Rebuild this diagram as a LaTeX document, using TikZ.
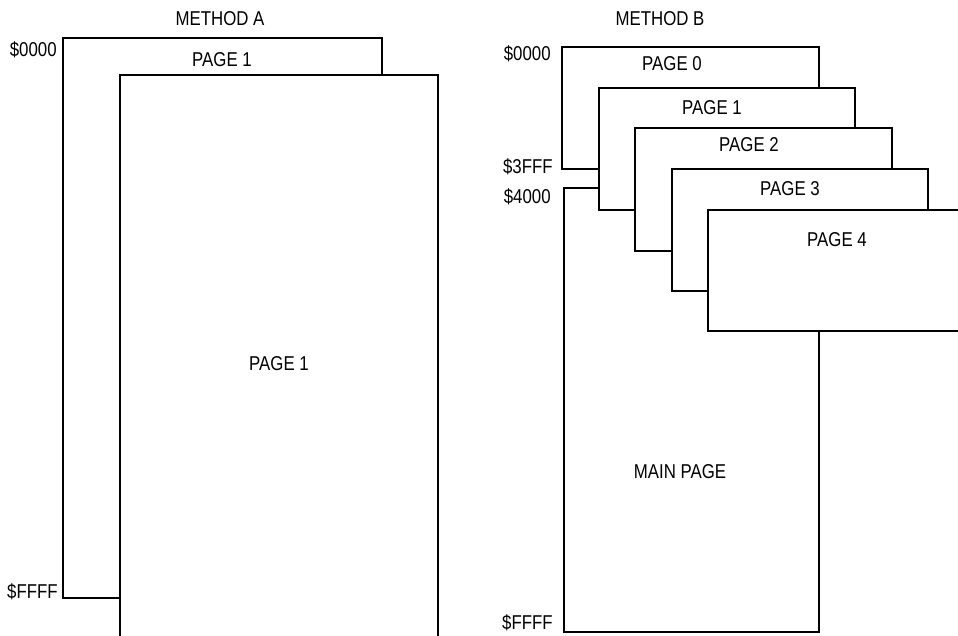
\documentclass[tikz,border=0pt]{standalone}
\usepackage{fontspec}
\setmainfont[FakeStretch=0.84]{Liberation Sans}
\begin{document}
\begin{tikzpicture}[x=0.02cm, y=-0.02cm,
  pg/.style={draw=black, fill=white, line width=1.1pt},
  lbl/.style={font=\fontsize{11.4}{13}\selectfont, inner sep=0pt},
  addr/.style={lbl, anchor=east},
]
\useasboundingbox (0,0) rectangle (958,636);

%% --- Method A ---
\node[lbl] (ttlA) at (220,19) {METHOD A};
\draw[pg] (63,38) rectangle (382,598);
\draw[pg] (120,75) rectangle (438,670);
\node[lbl] (aPgTop) at (222,60) {PAGE 1};
\node[lbl] (aPgMain) at (279,364) {PAGE 1};
\node[addr] (aLo) at (57,50) {\$0000};
\node[addr] (aHi) at (58,592) {\$FFFF};

%% --- Method B ---
\node[lbl] (ttlB) at (660,19) {METHOD B};
\draw[pg] (562,47) rectangle (819,169);
\draw[pg] (564,188) rectangle (819,632);
\draw[pg] (599,88) rectangle (855,210);
\draw[pg] (635,128) rectangle (892,251);
\draw[pg] (672,169) rectangle (928,291);
\draw[pg] (708,210) rectangle (980,331);
\node[lbl] (bPg0) at (672,64) {PAGE 0};
\node[lbl] (bPg1) at (712,108) {PAGE 1};
\node[lbl] (bPg2) at (749,145) {PAGE 2};
\node[lbl] (bPg3) at (790,189) {PAGE 3};
\node[lbl] (bPg4) at (837,240) {PAGE 4};
\node[lbl] (bMain) at (680,472) {MAIN PAGE};
\node[addr] (bLo) at (551,54) {\$0000};
\node[addr] (bEnd0) at (553,167) {\$3FFF};
\node[addr] (bMainLo) at (551,197) {\$4000};
\node[addr] (bHi) at (553,623) {\$FFFF};
\end{tikzpicture}
\end{document}
